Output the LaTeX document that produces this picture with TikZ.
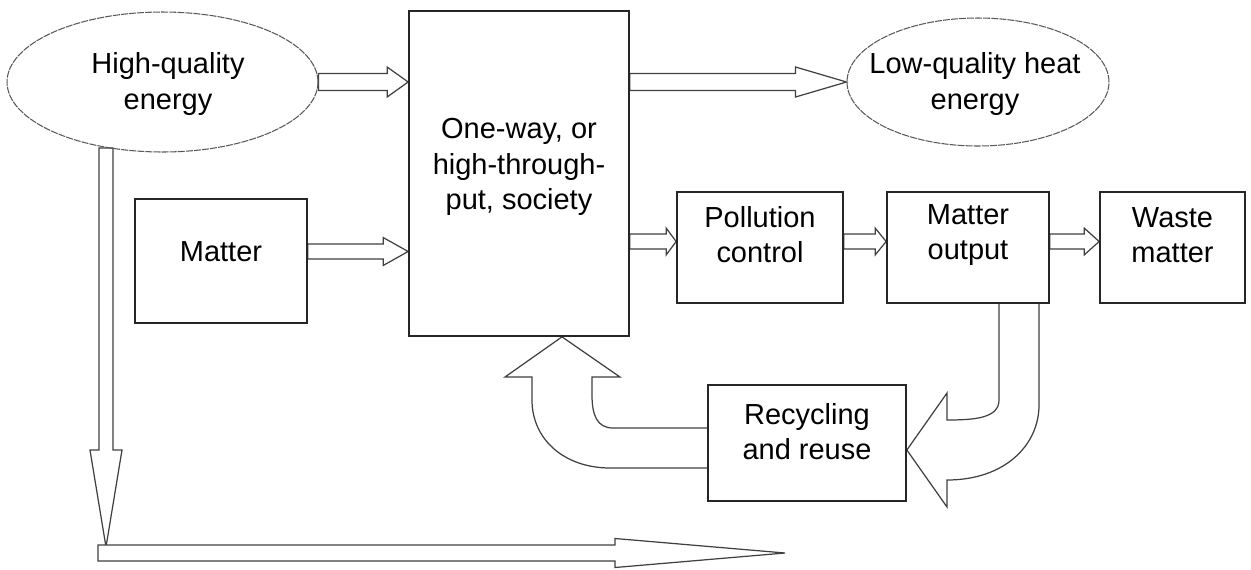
\documentclass[tikz,border=0pt]{standalone}
\usepackage{fontspec}
\setmainfont{Liberation Sans}
\usetikzlibrary{shapes.geometric,calc,backgrounds}
\newcommand\hfat[5]{\draw[fat] ($(#1)+(0,-#3)$) -- ($(#2)+(-#5,-#3)$) -- ($(#2)+(-#5,-#4)$) -- (#2) -- ($(#2)+(-#5,#4)$) -- ($(#2)+(-#5,#3)$) -- ($(#1)+(0,#3)$) -- cycle;}
\newcommand\vfat[5]{\draw[fat] ($(#1)+(-#3,0)$) -- ($(#2)+(-#3,-#5)$) -- ($(#2)+(-#4,-#5)$) -- (#2) -- ($(#2)+(#4,-#5)$) -- ($(#2)+(#3,-#5)$) -- ($(#1)+(#3,0)$) -- cycle;}
\tikzset{
  box/.style={draw=black!85, line width=1pt, inner sep=0pt},
  ell/.style={ellipse, draw=black!65, line width=0.6pt, dash pattern=on 4pt off 0.6pt, inner sep=0pt},
  txt/.style={font=\fontsize{16.5}{20}\selectfont, align=center, inner sep=0pt},
  fat/.style={draw=black!75, line width=0.7pt, fill=white, line join=miter},
}
\begin{document}
\begin{tikzpicture}[x=0.02cm,y=-0.02cm]
\useasboundingbox (0,0) rectangle (1251,569);
% nodes
\node[ell, minimum width=6.22cm, minimum height=2.8cm] (he) at (162.5,82) {};
\node[txt] (het) at (168,84) {High-quality\\energy};
\node[box, minimum width=4.4cm, minimum height=6.5cm] (soc) at (519,173.5) {};
\node[txt] (soct) at (519,167) {One-way, or\\high-through-\\put, society};
\node[ell, minimum width=5.24cm, minimum height=2.56cm] (le) at (978,82) {};
\node[txt] (let) at (975,84) {Low-quality heat\\energy};
\node[box, minimum width=3.44cm, minimum height=2.48cm] (matter) at (221,261) {};
\node[txt] (mattert) at (221,252) {Matter};
\node[box, minimum width=3.32cm, minimum height=2.22cm] (pol) at (760,247.5) {};
\node[txt] (polt) at (760,235) {Pollution\\control};
\node[box, minimum width=3.24cm, minimum height=2.22cm] (mo) at (968,247.5) {};
\node[txt] (mot) at (968,235) {Matter\\output};
\node[box, minimum width=2.9cm, minimum height=2.22cm] (wm) at (1172.5,247.5) {};
\node[txt] (wmt) at (1172.5,235) {Waste\\matter};
\node[box, minimum width=3.96cm, minimum height=2.32cm] (rr) at (807,443) {};
\node[txt] (rrt) at (807,432) {Recycling\\and reuse};
% connector end points
\coordinate (a1s) at (he.east);
\coordinate (a1t) at (soc.west |- he.east);
\coordinate (a2s) at (soc.east |- le.west);
\coordinate (a2t) at (le.west);
\coordinate (a3s) at ($(matter.east)+(0,-9.5)$);
\coordinate (a3t) at (soc.west |- a3s);
\coordinate (a4t) at ($(pol.west)+(0,-6)$);
\coordinate (a4s) at (soc.east |- a4t);
\coordinate (a5s) at (pol.east |- a4t);
\coordinate (a5t) at (mo.west |- a4t);
\coordinate (a6s) at (mo.east |- a4t);
\coordinate (a6t) at (wm.west |- a4t);
\coordinate (a7s) at (106,148);
\coordinate (a7t) at (106,547);
\coordinate (a8s) at (98,553);
\coordinate (a8t) at (785,553);
\begin{scope}[on background layer]
\hfat{a1s}{a1t}{8.5}{15}{21}
\hfat{a2s}{a2t}{8.5}{15}{51}
\hfat{a3s}{a3t}{7.5}{14}{25}
\hfat{a4s}{a4t}{7.5}{13.5}{10}
\hfat{a5s}{a5t}{7.5}{13.5}{11}
\hfat{a6s}{a6t}{7.5}{13.5}{15}
\vfat{a7s}{a7t}{7}{16}{97}
\hfat{a8s}{a8t}{8}{14.5}{170}
% matter output -> recycling
\draw[fat] ($(mo.south)+(31,0)$) -- (999,400) .. controls (999,418) and (975,420) .. (947,420)
  -- (947,393) -- ($(rr.east)+(0,7)$) -- (947,507) -- (947,480)
  .. controls (1005,480) and (1039,445) .. (1039,405) -- ($(mo.south)+(71,0)$);
% recycling -> society
\draw[fat] ($(rr.west)+(0,-15)$) -- (613,428) .. controls (597,428) and (592,415) .. (592,395)
  -- (592,377) -- (620,377) -- ($(soc.south)+(43,0)$) -- (505,377) -- (532,377) -- (532,400)
  .. controls (532,440) and (565,468) .. (610,468) -- ($(rr.west)+(0,25)$);
\end{scope}
\end{tikzpicture}
\end{document}
